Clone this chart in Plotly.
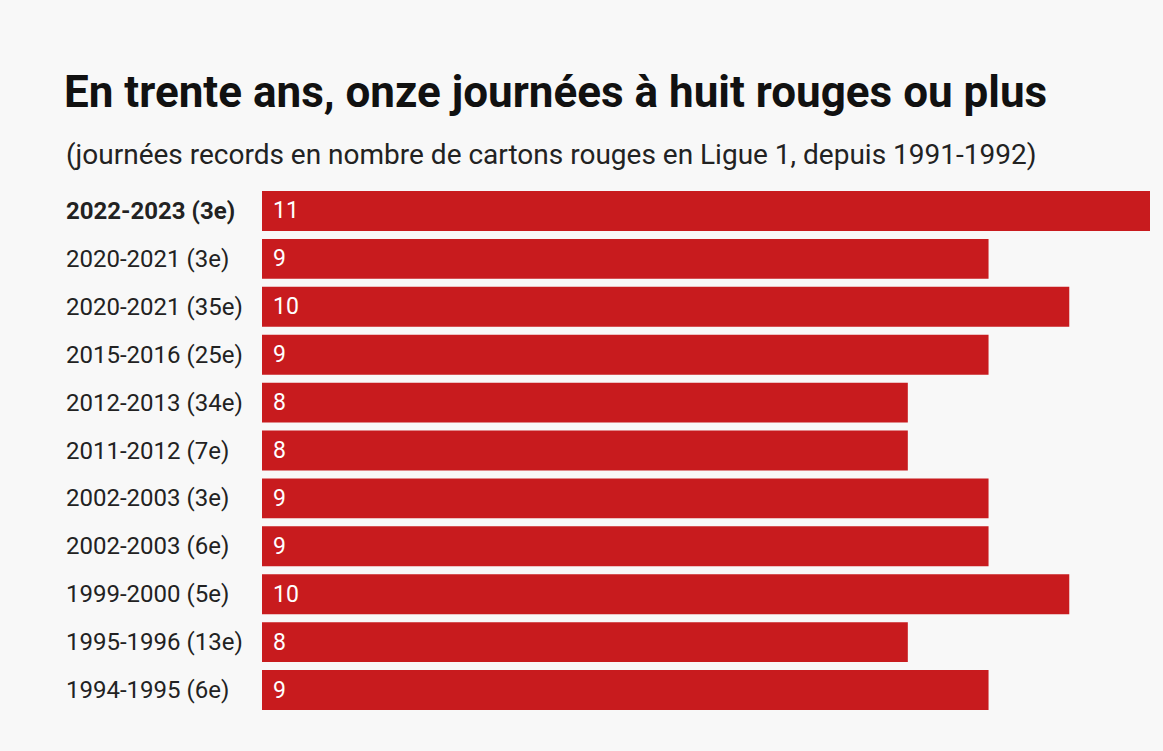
import plotly.graph_objects as go

categories = [
    "2022-2023 (3e)", "2020-2021 (3e)", "2020-2021 (35e)", "2015-2016 (25e)",
    "2012-2013 (34e)", "2011-2012 (7e)", "2002-2003 (3e)", "2002-2003 (6e)",
    "1999-2000 (5e)", "1995-1996 (13e)", "1994-1995 (6e)",
]
red_cards = [11, 9, 10, 9, 8, 8, 9, 9, 10, 8, 9]

title_text = "En trente ans, onze journées à huit rouges ou plus"
subtitle_text = "(journées records en nombre de cartons rouges en Ligue 1, depuis 1991-1992)"

W, H = 1163, 751
ML, MR, MT, MB = 262, 13, 187, 37
BG = "#f8f8f8"
BAR = "#c81b1e"

fig = go.Figure(go.Bar(
    x=red_cards, y=categories, orientation="h",
    marker=dict(color=BAR, line=dict(width=0)),
    hoverinfo="x+y",
))

plot_w = W - ML - MR
plot_h = H - MT - MB

annotations = []
for i, (c, v) in enumerate(zip(categories, red_cards)):
    label = f"<b>{c}</b>" if i == 0 else c
    annotations.append(dict(
        x=(64 - ML) / plot_w, xref="paper", y=c, yref="y",
        text=label, showarrow=False, xanchor="left", yanchor="middle",
        font=dict(family="Roboto", size=24, color="#222222"),
    ))
    annotations.append(dict(
        x=0, xref="x", y=c, yref="y", xshift=9,
        text=str(v), showarrow=False, xanchor="left", yanchor="middle",
        font=dict(family="Roboto", size=23, color="#ffffff"),
    ))

annotations.append(dict(
    x=(64 - ML) / plot_w, xref="paper", y=(H - MB - 154) / plot_h, yref="paper",
    text=subtitle_text, showarrow=False, xanchor="left", yanchor="middle",
    font=dict(family="Roboto", size=28, color="#222222"),
))

fig.update_layout(
    width=W, height=H,
    margin=dict(l=ML, r=MR, t=MT, b=MB, pad=0),
    paper_bgcolor=BG, plot_bgcolor=BG,
    title=dict(
        text=f"<b>{title_text}</b>", x=64 / W, xanchor="left", xref="container",
        y=1 - 92 / H, yanchor="middle", yref="container",
        font=dict(family="Roboto", size=44, color="#111111"),
    ),
    xaxis=dict(range=[0, 11], visible=False, fixedrange=True),
    yaxis=dict(autorange="reversed", visible=False, fixedrange=True),
    bargap=8 / 48,
    showlegend=False,
    annotations=annotations,
)

fig.write_html(
    "out.html",
    config={"displayModeBar": False},
    post_script="document.body.style.margin='0';document.body.style.background='#f8f8f8';document.body.style.overflow='hidden';",
)
